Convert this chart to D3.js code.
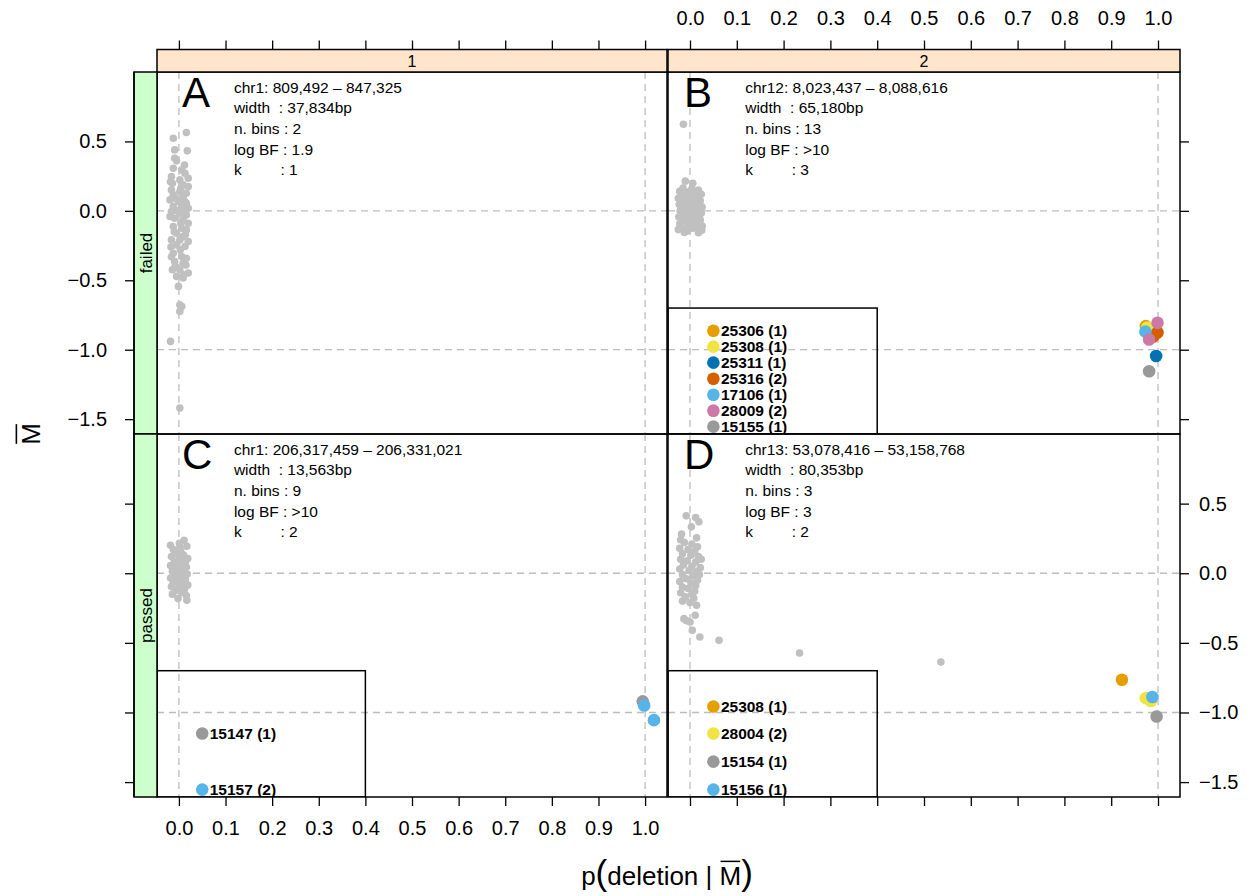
<!DOCTYPE html>
<html>
<head>
<meta charset="utf-8">
<script src="https://cdn.jsdelivr.net/npm/d3@7"></script>
<style>
  body { margin: 0; background: #ffffff; }
  text { font-family: "Liberation Sans", Arial, Helvetica, sans-serif; fill: #000; }
</style>
</head>
<body>
<svg id="chart" width="1257" height="896"></svg>
<script>
// ---------------- data ----------------
const columnLabels = ["1", "2"];
const rowLabels = ["failed", "passed"];
const xTickValues = [0, 0.1, 0.2, 0.3, 0.4, 0.5, 0.6, 0.7, 0.8, 0.9, 1.0];
const yTickValues = [0.5, 0, -0.5, -1, -1.5];

const panelLetters = ["A", "B", "C", "D"];
const regionText = ["chr1: 809,492 \u2013 847,325", "chr12: 8,023,437 \u2013 8,088,616",
                    "chr1: 206,317,459 \u2013 206,331,021", "chr13: 53,078,416 \u2013 53,158,768"];
const widthText = ["37,834bp", "65,180bp", "13,563bp", "80,353bp"];
const binsText = ["2", "13", "9", "3"];
const logBFText = ["1.9", ">10", ">10", "3"];
const kText = ["1", "3", "2", "2"];

// background samples: [p(deletion), mean log ratio]
const backgroundA = [
  [0.016,0.564],[-0.012,0.523],[0.018,0.432],[-0.009,0.439],[-0.009,0.379],[-0.012,0.307],[0.006,0.295],
  [-0.016,0.247],[0.013,0.271],[0.020,0.235],[0.002,0.223],[-0.014,0.199],[0.009,0.187],[0.020,0.175],
  [-0.016,0.151],[0.002,0.139],[0.016,0.127],[-0.012,0.115],[0.009,0.103],[-0.019,0.079],[-0.001,0.067],
  [0.016,0.055],[-0.012,0.031],[0.006,0.031],[0.020,0.019],[-0.016,-0.005],[0.002,-0.017],[0.016,-0.029],
  [-0.009,-0.053],[0.009,-0.065],[0.020,-0.089],[-0.012,-0.113],[0.006,-0.125],[0.016,-0.137],[-0.005,-0.161],
  [0.009,-0.185],[-0.016,-0.209],[0.002,-0.209],[0.020,-0.221],[-0.005,-0.245],[0.013,-0.257],[-0.012,-0.305],
  [0.006,-0.329],[0.016,-0.341],[-0.009,-0.365],[0.009,-0.377],[-0.014,-0.424],[0.002,-0.424],[0.020,-0.448],
  [-0.005,-0.472],[0.009,-0.484],[-0.001,-0.544],[0.002,-0.676],[0.006,-0.688],[0.002,-0.724],[-0.018,-0.940],
  [0.002,-1.420],[-0.005,0.360],[0.012,0.330],[-0.018,0.210],[0.004,0.160],[-0.008,0.090],[0.012,0.070],
  [-0.004,0.000],[0.011,0.010],[-0.019,-0.040],[0.004,-0.090],[-0.010,-0.150],[0.014,-0.170],[-0.017,-0.260],
  [0.003,-0.280],[-0.008,-0.400],[0.015,-0.390],[-0.016,-0.330],[0.010,-0.460]
];
const backgroundB = [
  [-0.014,0.624],[-0.010,0.214],[0.006,0.199],
  [-0.015,0.165],[0.004,0.160],[0.018,0.150],[-0.022,0.140],[-0.005,0.135],[0.012,0.128],[0.024,0.120],
  [-0.018,0.110],[0.000,0.105],[0.016,0.098],[-0.025,0.090],[-0.008,0.085],[0.008,0.080],[0.022,0.072],
  [-0.016,0.065],[0.002,0.060],[0.019,0.052],[-0.023,0.045],[-0.006,0.040],[0.011,0.035],[0.026,0.028],
  [-0.014,0.020],[0.003,0.015],[0.017,0.008],[-0.021,0.000],[-0.004,-0.005],[0.013,-0.010],[0.024,-0.018],
  [-0.017,-0.025],[0.000,-0.030],[0.015,-0.038],[-0.024,-0.045],[-0.008,-0.050],[0.009,-0.058],[0.022,-0.065],
  [-0.015,-0.072],[0.003,-0.078],[0.018,-0.085],[-0.022,-0.095],[-0.004,-0.100],[0.012,-0.105],[0.026,-0.110],
  [-0.018,-0.120],[0.006,-0.125],[0.020,-0.130],[-0.025,-0.135],[-0.006,-0.145],[0.025,-0.140],[-0.012,-0.155],
  [0.018,-0.158],[-0.002,0.110],[0.010,0.050],[-0.012,-0.010],[0.006,-0.090]
];
const backgroundC = [
  [-0.018,0.201],[0.011,0.237],[0.017,0.194],[0.001,0.215],[0.019,0.106],[-0.002,-0.182],[0.017,-0.194],
  [-0.012,0.170],[0.004,0.160],[-0.006,0.140],[0.010,0.130],[-0.016,0.120],[0.000,0.100],[0.014,0.085],
  [-0.010,0.080],[0.006,0.065],[-0.018,0.055],[0.016,0.045],[-0.004,0.040],[0.010,0.025],[-0.014,0.015],
  [0.002,0.005],[0.018,-0.005],[-0.008,-0.015],[0.008,-0.025],[-0.018,-0.035],[0.014,-0.045],[-0.002,-0.050],
  [-0.012,-0.065],[0.006,-0.075],[0.019,-0.085],[-0.016,-0.095],[0.000,-0.100],[0.012,-0.115],[-0.008,-0.125],
  [0.006,-0.140],[-0.014,-0.150],[0.016,-0.160],[0.002,0.190],[-0.004,0.000],[0.008,0.110]
];
const backgroundD = [
  [-0.008,0.412],[0.012,0.400],[0.019,0.369],[0.003,0.333],[-0.018,0.281],[0.014,0.254],
  [-0.020,0.240],[-0.012,0.220],[0.004,0.210],[0.016,0.190],[-0.022,0.180],[-0.004,0.170],[0.010,0.160],
  [-0.016,0.140],[0.002,0.130],[0.018,0.120],[0.024,0.100],[-0.020,0.100],[-0.006,0.090],[0.012,0.080],
  [-0.014,0.060],[0.004,0.050],[0.022,0.040],[-0.022,0.030],[-0.002,0.020],[0.014,0.010],[0.020,-0.010],
  [-0.016,-0.010],[0.006,-0.020],[-0.008,-0.040],[0.016,-0.050],[-0.022,-0.060],[0.002,-0.070],[0.012,-0.090],
  [-0.016,-0.100],[-0.004,-0.110],[0.010,-0.130],[-0.020,-0.140],[0.004,-0.150],[-0.010,-0.170],[0.008,-0.180],
  [-0.016,-0.200],[0.000,-0.210],[0.014,-0.230],[0.011,-0.302],[-0.013,-0.326],[-0.008,-0.340],[0.000,-0.350],
  [0.005,-0.410],[0.021,-0.458],[0.062,-0.482],[0.234,-0.573],[0.536,-0.638]
];

// highlighted samples per panel
const samplesB = ["25306", "25308", "25311", "25316", "17106", "28009", "15155"];
const countsB  = [1, 1, 1, 2, 1, 2, 1];
const coloursB = ["#E69F00", "#F0E442", "#0072B2", "#D55E00", "#56B4E9", "#CC79A7", "#999999"];
const legendYB = [-0.863, -0.978, -1.093, -1.209, -1.324, -1.439, -1.554];
// [p(deletion), mean log ratio, sample index]
const callsB = [[0.974,-0.830,0],[0.977,-0.840,1],[0.996,-1.045,2],[0.999,-0.876,3],[0.990,-0.905,3],
                [0.973,-0.870,4],[0.999,-0.806,5],[0.981,-0.926,5],[0.981,-1.155,6]];

const samplesC = ["15147", "15157"];
const countsC  = [1, 2];
const coloursC = ["#999999", "#56B4E9"];
const legendYC = [-1.151, -1.554];
const callsC = [[0.995,-0.920,0],[0.998,-0.950,1],[1.019,-1.055,1]];

const samplesD = ["25308", "28004", "15154", "15156"];
const countsD  = [1, 2, 1, 1];
const coloursD = ["#E69F00", "#F0E442", "#999999", "#56B4E9"];
const legendYD = [-0.957, -1.151, -1.353, -1.554];
const callsD = [[0.923,-0.765,0],[0.974,-0.897,1],[0.985,-0.917,1],[0.997,-1.029,2],[0.988,-0.889,3]];

// ---------------- layout ----------------
const svg = d3.select("#chart");
const colRange = [[157, 667], [668, 1180]];
const rowRange = [[72, 434], [434, 797]];
const xDomain = [-0.047, 1.047];
const yDomain = [-1.607, 1.0];
const stripTop = 49.5, stripLeft = 134;
const tickFont = 20, infoFont = 15.5, stripFont = 17;

const xScales = colRange.map(r => d3.scaleLinear().domain(xDomain).range(r));
const yScales = rowRange.map(r => d3.scaleLinear().domain(yDomain).range([r[1], r[0]]));

const panels = [
  { row: 0, col: 0, bg: backgroundA, samples: [], counts: [], colours: [], legendY: [], calls: [] },
  { row: 0, col: 1, bg: backgroundB, samples: samplesB, counts: countsB, colours: coloursB, legendY: legendYB, calls: callsB },
  { row: 1, col: 0, bg: backgroundC, samples: samplesC, counts: countsC, colours: coloursC, legendY: legendYC, calls: callsC },
  { row: 1, col: 1, bg: backgroundD, samples: samplesD, counts: countsD, colours: coloursD, legendY: legendYD, calls: callsD }
];

const defs = svg.append("defs");

panels.forEach((p, i) => {
  const x = xScales[p.col], y = yScales[p.row];
  const [x0, x1] = colRange[p.col], [y0, y1] = rowRange[p.row];
  const clipId = "clip" + i;
  defs.append("clipPath").attr("id", clipId)
    .append("rect").attr("x", x0).attr("y", y0).attr("width", x1 - x0).attr("height", y1 - y0);
  const g = svg.append("g").attr("clip-path", `url(#${clipId})`);

  // reference lines at p = 0, 1 and M = 0, -1
  [0, 1].forEach(v => g.append("line")
    .attr("x1", x(v)).attr("x2", x(v)).attr("y1", y0).attr("y2", y1)
    .attr("stroke", "#bdbdbd").attr("stroke-width", 1.3).attr("stroke-dasharray", "7,5"));
  [0, -1].forEach(v => g.append("line")
    .attr("x1", x0).attr("x2", x1).attr("y1", y(v)).attr("y2", y(v))
    .attr("stroke", "#bdbdbd").attr("stroke-width", 1.3).attr("stroke-dasharray", "7,5"));

  // all other samples
  g.selectAll("circle.bg").data(p.bg).join("circle").attr("class", "bg")
    .attr("cx", d => x(d[0])).attr("cy", d => y(d[1])).attr("r", 3.8).attr("fill", "#c0c0c0");

  // legend box
  if (p.samples.length) {
    g.append("rect")
      .attr("x", x0).attr("y", y(-0.7))
      .attr("width", x(0.4) - x0).attr("height", y1 - y(-0.7))
      .attr("fill", "none").attr("stroke", "#000").attr("stroke-width", 1.5);
  }

  // called samples
  g.selectAll("circle.call").data(p.calls).join("circle").attr("class", "call")
    .attr("cx", d => x(d[0])).attr("cy", d => y(d[1])).attr("r", 6.3)
    .attr("fill", d => p.colours[d[2]]);

  // legend entries
  p.samples.forEach((s, j) => {
    g.append("circle").attr("cx", x(0.05)).attr("cy", y(p.legendY[j])).attr("r", 6.3)
      .attr("fill", p.colours[j]);
    g.append("text").attr("x", x(0.05) + 7.5).attr("y", y(p.legendY[j]) + 5.5)
      .attr("font-size", 15.5).attr("font-weight", "bold")
      .text(`${s} (${p.counts[j]})`);
  });

  // panel letter
  g.append("text").attr("x", p.col === 0 ? x0 + 25 : x0 + 16).attr("y", y0 + 35)
    .attr("font-size", 42).text(panelLetters[i]);

  // region summary
  const lines = [regionText[i], "width  : " + widthText[i], "n. bins : " + binsText[i],
                 "log BF : " + logBFText[i], "k         : " + kText[i]];
  lines.forEach((t, j) => g.append("text")
    .attr("x", x(0.118)).attr("y", y0 + 20.5 + j * 20.7)
    .attr("font-size", infoFont).attr("xml:space", "preserve").style("white-space", "pre")
    .text(t));

  // panel border
  svg.append("rect").attr("x", x0).attr("y", y0).attr("width", x1 - x0).attr("height", y1 - y0)
    .attr("fill", "none").attr("stroke", "#000").attr("stroke-width", 1.5);
});

// column strips
columnLabels.forEach((lab, c) => {
  const [x0, x1] = colRange[c];
  svg.append("rect").attr("x", x0).attr("y", stripTop).attr("width", x1 - x0).attr("height", rowRange[0][0] - stripTop)
    .attr("fill", "#ffe5cc").attr("stroke", "#000").attr("stroke-width", 1.5);
  svg.append("text").attr("x", (x0 + x1) / 2).attr("y", stripTop + 17.5).attr("text-anchor", "middle")
    .attr("font-size", stripFont - 1).text(lab);
});

// row strips
rowLabels.forEach((lab, r) => {
  const [y0, y1] = rowRange[r];
  svg.append("rect").attr("x", stripLeft).attr("y", y0).attr("width", colRange[0][0] - stripLeft).attr("height", y1 - y0)
    .attr("fill", "#ccffcc").attr("stroke", "#000").attr("stroke-width", 1.5);
  svg.append("text").attr("transform", `translate(${stripLeft + 17.5},${(y0 + y1) / 2}) rotate(-90)`)
    .attr("text-anchor", "middle").attr("font-size", stripFont).text(lab);
});

// axes
const fmt = d3.format(".1f");
function styleAxis(g) {
  g.select(".domain").remove();
  g.selectAll(".tick line").attr("stroke", "#000").attr("stroke-width", 1.3);
  g.selectAll(".tick text").attr("font-size", tickFont).attr("font-family", "Liberation Sans, Arial, sans-serif");
}
xScales.forEach((x, c) => {
  svg.append("g").attr("transform", `translate(0,${stripTop})`)
    .call(d3.axisTop(x).tickValues(xTickValues).tickSize(9).tickPadding(16)
      .tickFormat(c === 1 ? fmt : () => ""))
    .call(styleAxis);
  svg.append("g").attr("transform", `translate(0,${rowRange[1][1]})`)
    .call(d3.axisBottom(x).tickValues(xTickValues).tickSize(9).tickPadding(15)
      .tickFormat(c === 0 ? fmt : () => ""))
    .call(styleAxis);
});
yScales.forEach((y, r) => {
  svg.append("g").attr("transform", `translate(${stripLeft},0)`)
    .call(d3.axisLeft(y).tickValues(yTickValues).tickSize(9).tickPadding(18)
      .tickFormat(r === 0 ? fmt : () => ""))
    .call(styleAxis);
  svg.append("g").attr("transform", `translate(${colRange[1][1]},0)`)
    .call(d3.axisRight(y).tickValues(yTickValues).tickSize(9).tickPadding(10)
      .tickFormat(r === 1 ? fmt : () => ""))
    .call(styleAxis);
});
// outer left edge of the row strips
svg.append("line").attr("x1", stripLeft).attr("x2", stripLeft).attr("y1", rowRange[0][0]).attr("y2", rowRange[1][1])
  .attr("stroke", "#000").attr("stroke-width", 1.5);

// y-axis title: M with overline
const yTitle = svg.append("g").attr("transform", "translate(40,434) rotate(-90)");
const yt = yTitle.append("text").attr("text-anchor", "middle").attr("font-size", 26).text("M");
const yb = yt.node().getBBox();
yTitle.append("line").attr("x1", yb.x + 1).attr("x2", yb.x + yb.width - 1)
  .attr("y1", -26 * 0.716 - 5).attr("y2", -26 * 0.716 - 5).attr("stroke", "#000").attr("stroke-width", 1.6);

// x-axis title: p(deletion | M with overline)
const pieces = [
  { t: "p", fs: 26 }, { t: "(", fs: 35 }, { t: "deletion | ", fs: 26 },
  { t: "M", fs: 26, bar: true }, { t: ")", fs: 35 }
];
const baseY = 885;
const xt = svg.append("g");
let widths = pieces.map(pc => {
  const tmp = xt.append("text").attr("font-size", pc.fs).attr("xml:space", "preserve").style("white-space", "pre").text(pc.t);
  const w = tmp.node().getComputedTextLength();
  tmp.remove();
  return w;
});
let cx = 667 - d3.sum(widths) / 2;
pieces.forEach((pc, j) => {
  xt.append("text").attr("x", cx).attr("y", baseY).attr("font-size", pc.fs)
    .attr("xml:space", "preserve").style("white-space", "pre").text(pc.t);
  if (pc.bar) {
    const yy = baseY - pc.fs * 0.716 - 5;
    xt.append("line").attr("x1", cx + 1).attr("x2", cx + widths[j] - 1).attr("y1", yy).attr("y2", yy)
      .attr("stroke", "#000").attr("stroke-width", 1.5);
  }
  cx += widths[j];
});
</script>
</body>
</html>
